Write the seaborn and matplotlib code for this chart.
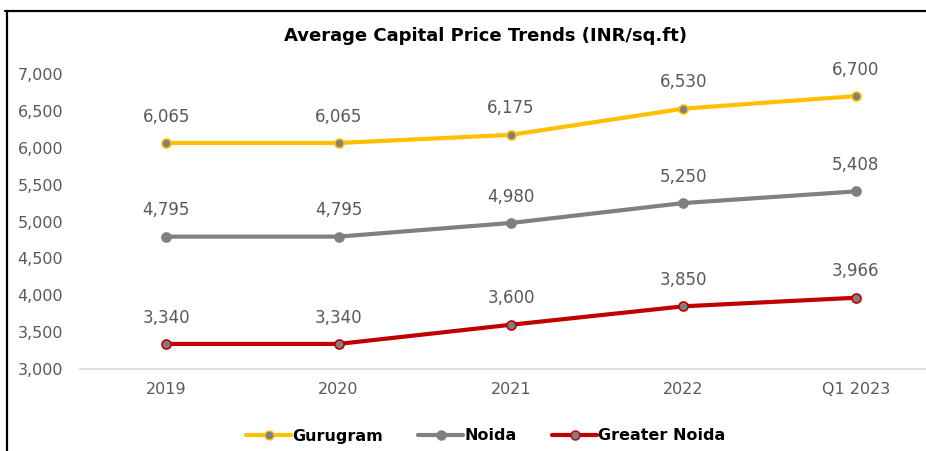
import matplotlib
matplotlib.use("Agg")
import matplotlib.pyplot as plt
from matplotlib.lines import Line2D
import seaborn as sns
import pandas as pd

categories = ["2019", "2020", "2021", "2022", "Q1 2023"]
gurugram = [6065, 6065, 6175, 6530, 6700]
noida = [4795, 4795, 4980, 5250, 5408]
greater_noida = [3340, 3340, 3600, 3850, 3966]
series_names = ["Gurugram", "Noida", "Greater Noida"]
colors = ["#FFC000", "#808080", "#C00000"]
yticks = [3000, 3500, 4000, 4500, 5000, 5500, 6000, 6500, 7000]

sns.set_theme(style="white")
plt.rcParams["font.family"] = ["DejaVu Sans"]

fig = plt.figure(figsize=(9.26, 4.51), dpi=100)
ax = fig.add_axes([80/926, (451-369)/451, 862/926, 295/451])

values = [gurugram, noida, greater_noida]
for name, vals, col in zip(series_names, values, colors):
    df = pd.DataFrame({"x": range(len(categories)), "y": vals})
    sns.lineplot(data=df, x="x", y="y", ax=ax, color=col, linewidth=3.0,
                 marker="o", markersize=6.5, markerfacecolor="#7F7F7F",
                 markeredgecolor=col, markeredgewidth=1.2, clip_on=False)
    for i, v in enumerate(vals):
        ax.annotate(f"{v:,}", (i, v), xytext=(0, 19), textcoords="offset points",
                    ha="center", va="center", fontsize=12, color="#595959")

ax.set_xlim(-0.5, len(categories) - 0.5)
ax.set_ylim(3000, 7000)
ax.set_yticks(yticks)
ax.set_yticklabels([f"{t:,}" for t in yticks], fontsize=11.5, color="#595959")
ax.set_xticks(range(len(categories)))
ax.set_xticklabels(categories, fontsize=11.5, color="#595959")
ax.tick_params(axis="both", length=0)
ax.tick_params(axis="y", pad=12)
ax.tick_params(axis="x", pad=9)
ax.set_xlabel("")
ax.set_ylabel("")
for s in ["top", "right", "left"]:
    ax.spines[s].set_visible(False)
ax.spines["bottom"].set_color("#D9D9D9")
ax.spines["bottom"].set_linewidth(1.2)
ax.grid(False)

fig.text(486/926, 1 - 36/451, "Average Capital Price Trends (INR/sq.ft)",
         ha="center", va="center", fontsize=13, fontweight="bold", color="#000000")

handles = [Line2D([], [], color=c, linewidth=3.0, marker="o", markersize=6.5,
                  markerfacecolor="#7F7F7F", markeredgecolor=c) for c in colors]
leg = fig.legend(handles, series_names, loc="center", bbox_to_anchor=(486/926, 1 - 436/451),
                 ncol=3, frameon=False, handlelength=2.8, handletextpad=0.1, columnspacing=2.2,
                 prop={"weight": "bold", "size": 11.5})
for t in leg.get_texts():
    t.set_color("#000000")

fig.add_artist(Line2D([5/926, 1], [1 - 11/451, 1 - 11/451], color="black", linewidth=1.6,
                      transform=fig.transFigure))
fig.add_artist(Line2D([7/926, 7/926], [0, 1 - 11/451], color="black", linewidth=1.6,
                      transform=fig.transFigure))

fig.savefig("out.png", dpi=100)
